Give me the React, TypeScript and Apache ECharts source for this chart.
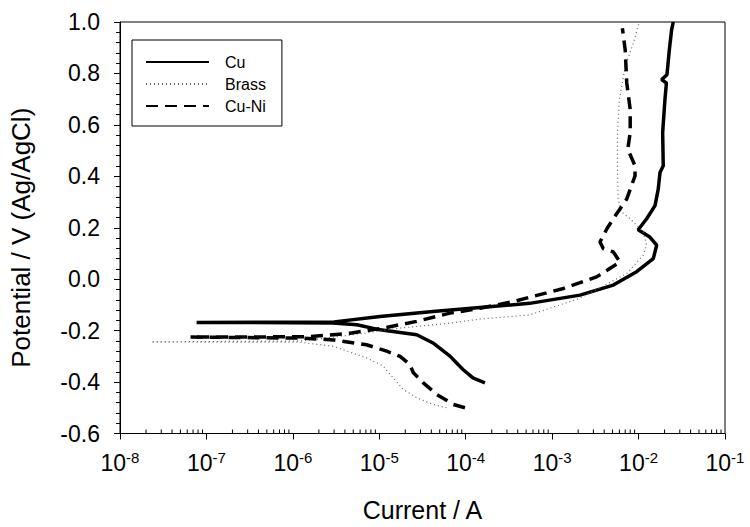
import React, { useEffect, useRef } from "react";
import * as echarts from "echarts";

// Polarization curves: current (A) vs potential (V vs Ag/AgCl)
const seriesNames = ["Cu", "Brass", "Cu-Ni"];

const cuCurrent = [1.67e-4, 1.21e-4, 9.3e-5, 8.15e-5, 6.58e-5, 4.18e-5, 2.71e-5, 1.02e-5, 5.5e-6, 2.9e-6, 7.7e-8, 3.0e-6, 1.02e-5, 4.18e-5, 1.46e-4, 5.5e-4, 2.1e-3, 5.1e-3, 9.5e-3, 1.48e-2, 1.62e-2, 1.35e-2, 9.9e-3, 1.24e-2, 1.55e-2, 1.69e-2, 1.77e-2, 1.93e-2, 1.9e-2, 2.02e-2, 2.1e-2, 1.85e-2, 2.13e-2, 2.27e-2, 2.41e-2, 2.52e-2];
const cuPotential = [-0.403, -0.384, -0.351, -0.332, -0.299, -0.248, -0.216, -0.197, -0.177, -0.170, -0.168, -0.166, -0.145, -0.126, -0.110, -0.094, -0.062, -0.023, 0.029, 0.080, 0.132, 0.164, 0.192, 0.235, 0.286, 0.351, 0.415, 0.441, 0.570, 0.699, 0.763, 0.776, 0.795, 0.892, 0.969, 1.0];

const brassCurrent = [6.0e-5, 4.2e-5, 2.71e-5, 1.9e-5, 1.45e-5, 1.11e-5, 7.1e-6, 2.94e-6, 1.21e-6, 2.3e-8, 1.3e-6, 5.0e-6, 1.74e-5, 6.6e-5, 1.46e-4, 5.5e-4, 2.1e-3, 7.3e-3, 1.13e-2, 1.24e-2, 1.13e-2, 8.3e-3, 6.4e-3, 5.8e-3, 5.7e-3, 5.7e-3, 6.0e-3, 7.0e-3, 8.7e-3, 1.02e-2];
const brassPotential = [-0.500, -0.487, -0.461, -0.429, -0.384, -0.338, -0.306, -0.261, -0.245, -0.244, -0.240, -0.216, -0.190, -0.171, -0.155, -0.139, -0.074, 0.022, 0.093, 0.132, 0.183, 0.230, 0.261, 0.312, 0.441, 0.570, 0.699, 0.827, 0.918, 1.0];

const cuniCurrent = [9.8e-5, 7.2e-5, 4.61e-5, 3.23e-5, 2.48e-5, 2.26e-5, 1.74e-5, 1.22e-5, 7.1e-6, 2.94e-6, 1.21e-6, 6.5e-8, 1.5e-6, 4.6e-6, 1.11e-5, 2.71e-5, 6.6e-5, 1.46e-4, 3.56e-4, 1.35e-3, 3.27e-3, 6.1e-3, 5.1e-3, 3.9e-3, 3.58e-3, 4.3e-3, 5.1e-3, 7.3e-3, 9.1e-3, 9.1e-3, 7.5e-3, 8.0e-3, 8.0e-3, 7.3e-3, 7.0e-3, 6.5e-3];
const cuniPotential = [-0.500, -0.487, -0.448, -0.403, -0.364, -0.332, -0.300, -0.280, -0.255, -0.236, -0.229, -0.225, -0.224, -0.210, -0.190, -0.164, -0.132, -0.113, -0.087, -0.036, 0.009, 0.067, 0.106, 0.119, 0.145, 0.196, 0.235, 0.312, 0.402, 0.441, 0.505, 0.570, 0.660, 0.763, 0.892, 0.976];

const xMin = 1e-8;
const xMax = 1e-1;
const yMin = -0.6;
const yMax = 1.0;
const yInterval = 0.2;
const minorMultipliers = [2, 3, 4, 5, 6, 7, 8, 9];
const decadeExponents = [-8, -7, -6, -5, -4, -3, -2];

const xTitle = "Current / A";
const yTitle = "Potential / V (Ag/AgCl)";

const FONT = '"Liberation Sans", Arial, sans-serif';

function zip(xs: number[], ys: number[]): number[][] {
  const n = Math.min(xs.length, ys.length);
  const out: number[][] = [];
  for (let i = 0; i < n; i++) out.push([xs[i], ys[i]]);
  return out;
}

export default function App() {
  const ref = useRef<HTMLDivElement | null>(null);

  useEffect(() => {
    document.body.style.margin = "0";
    if (!ref.current) return;
    const chart = echarts.init(ref.current, undefined, { renderer: "svg" });

    // log-spaced minor tick values (2..9 x 10^n) placed on the bottom axis
    const minorTickData: number[][] = [];
    decadeExponents.forEach((e) => {
      minorMultipliers.forEach((m) => minorTickData.push([m * Math.pow(10, e), yMin]));
    });

    const option: any = {
      animation: false,
      grid: {
        left: 120,
        right: 25,
        top: 22,
        bottom: 90,
        show: true,
        borderColor: "#000",
        borderWidth: 1,
      },
      legend: {
        left: 132,
        top: 40,
        orient: "vertical",
        padding: [14, 16, 12, 13],
        borderColor: "#000",
        borderWidth: 1,
        backgroundColor: "#fff",
        itemWidth: 63,
        itemHeight: 14,
        itemGap: 6,
        data: seriesNames,
        itemStyle: { opacity: 0 },
        formatter: (name: string) => `{g| }${name}`,
        textStyle: {
          fontFamily: FONT,
          fontSize: 16,
          lineHeight: 16,
          color: "#000",
          rich: { g: { width: 11 } },
        },
      },
      xAxis: {
        type: "log",
        logBase: 10,
        min: xMin,
        max: xMax,
        name: xTitle,
        nameLocation: "middle",
        nameGap: 66,
        nameTextStyle: { fontFamily: FONT, fontSize: 25, lineHeight: 20, color: "#000" },
        axisLine: { show: true, onZero: false, lineStyle: { color: "#000", width: 1 } },
        axisTick: { show: true, inside: false, length: 6, lineStyle: { color: "#000", width: 1 } },
        splitLine: { show: false },
        axisLabel: {
          margin: 16,
          color: "#000",
          formatter: (v: number) => `{b|10}{s|${Math.round(Math.log10(v))}}`,
          rich: {
            b: { fontFamily: FONT, fontSize: 23, lineHeight: 26, color: "#000" },
            s: { fontFamily: FONT, fontSize: 15, lineHeight: 15, verticalAlign: "top", color: "#000" },
          },
        },
      },
      yAxis: {
        type: "value",
        min: yMin,
        max: yMax,
        interval: yInterval,
        name: yTitle,
        nameLocation: "middle",
        nameGap: 86,
        nameRotate: 90,
        nameTextStyle: { fontFamily: FONT, fontSize: 26, color: "#000", padding: [0, 20, 0, 0] },
        axisLine: { show: true, onZero: false, lineStyle: { color: "#000", width: 1 } },
        axisTick: { show: true, inside: false, length: 6, lineStyle: { color: "#000", width: 1 } },
        minorTick: { show: true, splitNumber: 5, length: 4, lineStyle: { color: "#000", width: 1 } },
        splitLine: { show: false },
        axisLabel: {
          margin: 20,
          fontFamily: FONT,
          fontSize: 23,
          color: "#000",
          formatter: (v: number) => (Math.abs(v) < 1e-9 ? "0.0" : v.toFixed(1)),
        },
      },
      series: [
        {
          name: "minor-ticks",
          type: "custom",
          data: minorTickData,
          clip: false,
          renderItem: (params: any, api: any) => {
            const p = api.coord([api.value(0), api.value(1)]);
            return {
              type: "line",
              shape: { x1: p[0], y1: p[1], x2: p[0], y2: p[1] - 4 },
              style: { stroke: "#000", lineWidth: 1 },
            };
          },
        },
        {
          name: seriesNames[0],
          type: "line",
          data: zip(cuCurrent, cuPotential),
          symbol: "none",
          lineStyle: { color: "#000", width: 3.5, type: "solid" },
          itemStyle: { color: "#000" },
        },
        {
          name: seriesNames[1],
          type: "line",
          data: zip(brassCurrent, brassPotential),
          symbol: "none",
          lineStyle: { color: "#666", width: 1.2, type: [1, 3] },
          itemStyle: { color: "#666" },
        },
        {
          name: seriesNames[2],
          type: "line",
          data: zip(cuniCurrent, cuniPotential),
          symbol: "none",
          lineStyle: { color: "#000", width: 3.5, type: [12, 7] },
          itemStyle: { color: "#000" },
        },
      ],
    };

    chart.setOption(option);
    return () => {
      chart.dispose();
    };
  }, []);

  return (
    <div
      ref={ref}
      style={{ position: "absolute", left: 0, top: 0, width: 750, height: 527, background: "#fff" }}
    />
  );
}
